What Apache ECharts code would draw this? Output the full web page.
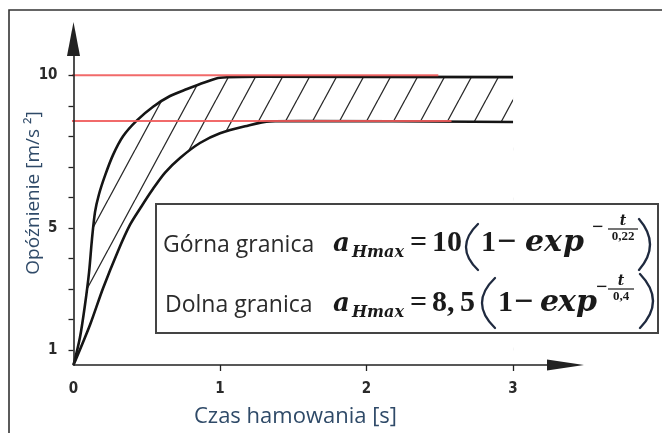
<!DOCTYPE html>
<html>
<head>
<meta charset="utf-8">
<script src="https://cdn.jsdelivr.net/npm/echarts@6/dist/echarts.min.js"></script>
<style>
  html, body { margin: 0; padding: 0; background: #fff; }
  #chart { width: 662px; height: 433px; }
</style>
</head>
<body>
<div id="chart"></div>
<script>
// Braking time [s] and deceleration [m/s²] along the upper bound curve
const upperTime = [0, 0.044, 0.078, 0.106, 0.126, 0.147, 0.174, 0.215, 0.270, 0.338, 0.433, 0.543, 0.659, 0.775, 0.898, 1.0, 1.273, 3.0];
const upperDecel = [0.5, 1.40, 2.46, 3.53, 4.62, 5.52, 6.10, 6.71, 7.39, 8.00, 8.52, 8.97, 9.32, 9.55, 9.77, 9.92, 9.95, 9.94];

// Braking time [s] and deceleration [m/s²] along the lower bound curve
const lowerTime = [0, 0.113, 0.201, 0.304, 0.386, 0.461, 0.536, 0.625, 0.727, 0.863, 1.0, 1.171, 1.341, 1.546, 3.0];
const lowerDecel = [0.5, 1.82, 3.01, 4.24, 5.10, 5.68, 6.23, 6.81, 7.29, 7.78, 8.10, 8.33, 8.49, 8.50, 8.47];

// Reference levels (red guide lines): [level, start time, end time]
const upperLimit = [10, -0.044, 2.49];
const lowerLimit = [8.5, -0.058, 2.58];

// Axis ticks and labels
const xLabelValues = [0, 1, 2, 3];
const xTickValues = [1, 2, 3];
const yTickValues = [1, 2, 3, 4, 5, 6, 7, 8, 9, 10];
const yLabelValues = [1, 5, 10];

const xName = 'Czas hamowania [s]';
const yName = 'Opóźnienie [m/s ²]';
const upperLabel = 'Górna granica';
const lowerLabel = 'Dolna granica';

const zip = (a, b) => a.map((v, i) => [v, b[i]]);
const upperData = zip(upperTime, upperDecel);
const lowerData = zip(lowerTime, lowerDecel);

// Diagonal hatch tile for the band between the two bounds
function hatchTile(w, h) {
  const c = document.createElement('canvas');
  c.width = w; c.height = h;
  const g = c.getContext('2d');
  g.fillStyle = '#fff';
  g.fillRect(0, 0, w, h);
  g.strokeStyle = '#2a2a2a';
  g.lineWidth = 1.3;
  g.beginPath();
  for (const k of [-1, 0, 1]) {
    g.moveTo(k * w, h);
    g.lineTo(k * w + w, 0);
  }
  g.stroke();
  return c;
}
const hatch = { image: hatchTile(27, 50), repeat: 'repeat' };

const axisColor = '#222';
const tickFont = "'Liberation Sans Narrow', 'DejaVu Sans Condensed', sans-serif";
const titleColor = '#2f4a68';
const serif = "'Liberation Serif', serif";
const mathSerif = "'DejaVu Serif', serif";
const ink = '#1a1a1a';

const chart = echarts.init(document.getElementById('chart'), null, { renderer: 'canvas' });

// A single text piece of the formula box
function t(text, x, y, size, opts) {
  opts = opts || {};
  return {
    type: 'text', x: x, y: y, z: 20,
    style: {
      text: text,
      font: (opts.style || '') + ' ' + (opts.weight || 'bold') + ' ' + size + 'px ' + (opts.family || serif),
      fill: opts.color || ink,
      align: opts.align || 'left',
      verticalAlign: 'middle'
    }
  };
}
// Tall bracket drawn as a curve (xEdge = outermost point of the bulge)
function paren(xEnds, xEdge, yTop, yBot) {
  return {
    type: 'bezierCurve', z: 20,
    shape: {
      x1: xEnds, y1: yTop, x2: xEnds, y2: yBot,
      cpx1: 2 * xEdge - xEnds, cpy1: (yTop + yBot) / 2
    },
    style: { stroke: '#1f2a3f', lineWidth: 2.3, fill: null, lineCap: 'round' }
  };
}

function formulaRow(r) {
  const b = r.base;
  const els = [];
  els.push(t(r.label, r.labelX, b - 7, 23, { weight: 'normal', family: "'Open Sans', sans-serif", color: '#2b2b2b' }));
  els.push(t('a', 333, b - 8, 26, { style: 'italic', family: mathSerif }));
  els.push(t('Hmax', 352, b + 1, 16, { style: 'italic', family: mathSerif }));
  els.push(t('=', 410, b - 9, 30));
  r.coef.forEach(c => els.push(t(c[0], c[1], b - 9, 30)));
  els.push(paren(r.lp[0], r.lp[1], r.lp[2], r.lp[3]));
  els.push(t('1', r.oneX, b - 9, 30));
  els.push(t('−', r.minusX, b - 9, 34));
  r.exp.forEach(c => els.push(t(c[0], c[1], b - 9, 30, { style: 'italic', family: mathSerif })));
  els.push(t('−', r.supMinusX, b - 24, 20));
  els.push(t('t', r.fracC, b - 31, 14, { style: 'italic', family: mathSerif, align: 'center' }));
  els.push({
    type: 'line', z: 20,
    shape: { x1: r.fracC - r.fracW / 2, y1: b - 23, x2: r.fracC + r.fracW / 2, y2: b - 23 },
    style: { stroke: ink, lineWidth: 1.2 }
  });
  els.push(t(r.denom, r.fracC, b - 15, 13, { align: 'center' }));
  els.push(paren(r.rp[0], r.rp[1], r.rp[2], r.rp[3]));
  return els;
}

const option = {
  animation: false,
  backgroundColor: '#fff',
  grid: { left: 73.5, right: 96.5, top: 39, bottom: 62, containLabel: false },
  xAxis: {
    type: 'value',
    min: 0,
    max: 3.358,
    z: 10,
    name: xName,
    nameLocation: 'middle',
    nameGap: 41,
    nameMoveOverlap: false,
    nameTextStyle: {
      fontFamily: "'Open Sans', sans-serif", fontSize: 22, color: titleColor,
      padding: [0, 48, 0, 0]
    },
    splitLine: { show: false },
    axisLine: {
      onZero: false,
      symbol: ['none', 'triangle'],
      symbolSize: [11, 37],
      lineStyle: { color: axisColor, width: 1.6 }
    },
    axisTick: { customValues: xTickValues, length: 6, lineStyle: { color: axisColor, width: 1.3 } },
    axisLabel: {
      customValues: xLabelValues,
      margin: 17,
      fontFamily: tickFont,
      fontWeight: 'bold',
      fontSize: 15,
      color: '#2a2a2a'
    }
  },
  yAxis: {
    type: 'value',
    min: 0.5,
    max: 11.19,
    z: 10,
    name: yName,
    nameLocation: 'middle',
    nameGap: 30,
    nameRotate: 90,
    nameMoveOverlap: false,
    nameTextStyle: {
      fontFamily: "'Open Sans', sans-serif", fontSize: 19, color: titleColor,
      padding: [0, 0, 0, 18]
    },
    splitLine: { show: false },
    axisLine: {
      onZero: false,
      symbol: ['none', 'triangle'],
      symbolSize: [13, 34],
      lineStyle: { color: axisColor, width: 1.6 }
    },
    axisTick: { customValues: yTickValues, length: 5, lineStyle: { color: axisColor, width: 1.3 } },
    axisLabel: {
      customValues: yLabelValues,
      margin: 16,
      fontFamily: tickFont,
      fontWeight: 'bold',
      fontSize: 15,
      color: '#2a2a2a'
    }
  },
  series: [
    {
      // upper bound; its area carries the hatch
      type: 'line',
      data: upperData,
      smooth: 0.3,
      showSymbol: false,
      z: 3,
      lineStyle: { color: '#151515', width: 2.6 },
      areaStyle: { color: hatch, opacity: 1, origin: 'start' }
    },
    {
      // lower bound; its area clears the hatch below it
      type: 'line',
      data: lowerData,
      smooth: 0.3,
      showSymbol: false,
      z: 4,
      lineStyle: { color: '#151515', width: 2.6 },
      areaStyle: { color: '#fff', opacity: 1, origin: 'start' }
    },
    {
      type: 'line',
      data: [[upperLimit[1], upperLimit[0]], [upperLimit[2], upperLimit[0]]],
      clip: false,
      showSymbol: false,
      z: 5,
      lineStyle: { color: '#ef5a5a', width: 2, opacity: 0.9 }
    },
    {
      type: 'line',
      data: [[lowerLimit[1], lowerLimit[0]], [lowerLimit[2], lowerLimit[0]]],
      clip: false,
      showSymbol: false,
      z: 5,
      lineStyle: { color: '#ef5a5a', width: 2, opacity: 0.9 }
    }
  ],
  graphic: [
    {
      // outer frame (continues past the right and bottom edges)
      type: 'rect', z: 0,
      shape: { x: 9, y: 10, width: 700, height: 500 },
      style: { fill: null, stroke: '#333', lineWidth: 1.6 }
    },
    {
      type: 'rect', z: 15,
      shape: { x: 156, y: 204, width: 502, height: 129 },
      style: { fill: '#fff', stroke: '#444', lineWidth: 2 }
    }
  ]
    .concat(formulaRow({
      label: upperLabel, labelX: 163, base: 252,
      coef: [['10', 432]],
      lp: [478, 466, 224, 270], oneX: 481, minusX: 497,
      exp: [['e', 525], ['x', 544], ['p', 563]],
      supMinusX: 592, fracC: 623, fracW: 30, denom: '0,22',
      rp: [639, 650, 219, 270]
    }))
    .concat(formulaRow({
      label: lowerLabel, labelX: 165, base: 312,
      coef: [['8,', 432], ['5', 460]],
      lp: [495, 482, 278, 328], oneX: 498, minusX: 514,
      exp: [['e', 540], ['x', 558], ['p', 576]],
      supMinusX: 596, fracC: 621, fracW: 26, denom: '0,4',
      rp: [640, 653, 274, 328]
    }))
};

chart.setOption(option);
</script>
</body>
</html>
